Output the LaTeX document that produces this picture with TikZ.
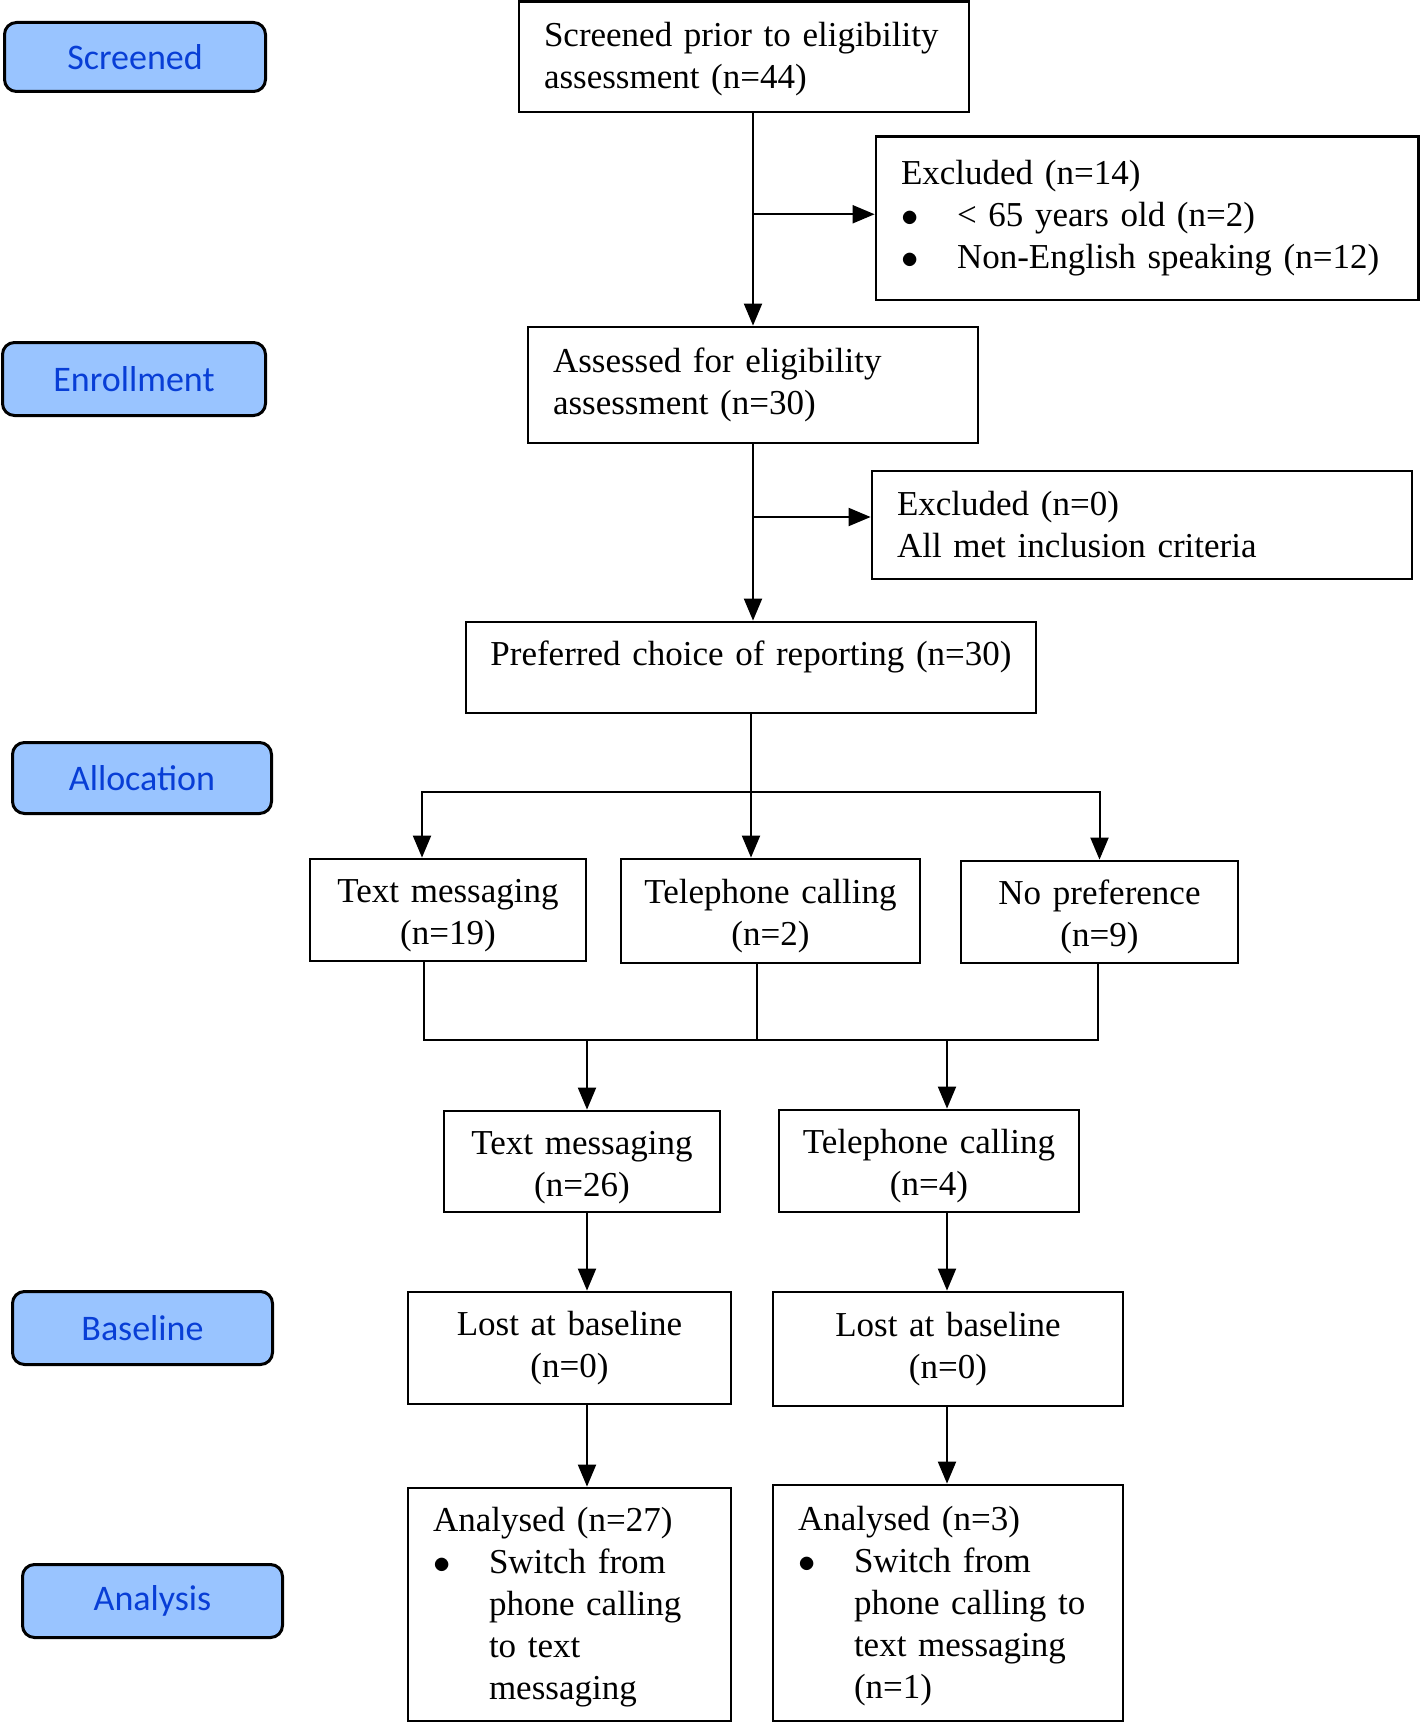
\documentclass[tikz,border=0pt]{standalone}
\usepackage{fontspec}
\setmainfont{Liberation Serif}
\newfontfamily\labelsans{Carlito}
\usetikzlibrary{arrows.meta}
\definecolor{labfill}{RGB}{153,196,255}
\definecolor{labtext}{RGB}{8,62,214}
\newcommand\boxsize{\fontsize{17.5pt}{21pt}\selectfont\fontdimen2\font=3.3pt\relax}
\newcommand\itembul{\makebox[28pt][l]{$\bullet$}}
\newcommand\itemind{\hspace*{28pt}}

\begin{document}
\begin{tikzpicture}[x=0.5pt,y=-0.5pt,
    box/.style={draw,line width=1.4pt,inner xsep=12.5pt,inner ysep=0pt,align=left,font=\boxsize},
    cbox/.style={box,inner xsep=4pt,align=center},
    lowtext/.style={text height=17.5pt},
    stage/.style={draw,line width=1.5pt,rounded corners=6pt,fill=labfill,text=labtext,
      font=\labelsans\fontsize{18pt}{21pt}\selectfont,inner sep=0pt},
    conn/.style={line width=1pt},
    arr/.style={conn,-{Triangle[length=11pt,width=9pt]}}]
  \useasboundingbox (0,0) rectangle (1421,1723);
  % stage labels on the left
  \node[stage,minimum width=130.5pt,minimum height=34.5pt] (lscr) at (135,57) {Screened};
  \node[stage,minimum width=131.5pt,minimum height=36.5pt] (lenr) at (134,379) {Enrollment};
  \node[stage,minimum width=129.5pt,minimum height=35.5pt] (lall) at (142,778) {Allocation};
  \node[stage,minimum width=130pt,minimum height=36.5pt] (lbas) at (142.5,1328) {Baseline};
  \node[stage,minimum width=130pt,minimum height=36.5pt] (lana) at (152.5,1601) {Analysis};
  % flow boxes
  \node[box,text width=200pt,minimum height=55.25pt,text height=14pt] (scr) at (744,56.75)
    {Screened prior to eligibility\\assessment (n=44)};
  \node[box,text width=246.25pt,minimum height=81.75pt] (excl1) at (1147.25,218.25)
    {Excluded (n=14)\\\itembul{}< 65 years old (n=2)\\\itembul{}Non-English speaking (n=12)};
  \node[box,text width=200pt,minimum height=58pt] (asd) at (753,385)
    {Assessed for eligibility\\assessment (n=30)};
  \node[box,text width=245pt,minimum height=54pt] (excl0) at (1142,525)
    {Excluded (n=0)\\All met inclusion criteria};
  \node[cbox,text width=277pt,minimum height=45.5pt,text height=12pt,text depth=14pt] (pref) at (751,667.5)
    {Preferred choice of reporting (n=30)};
  \node[cbox,lowtext,text width=130pt,minimum height=51pt] (txt1) at (448,910) {Text messaging\\(n=19)};
  \node[cbox,lowtext,text width=141.5pt,minimum height=52pt] (tel1) at (770.5,911) {Telephone calling\\(n=2)};
  \node[cbox,lowtext,text width=130.5pt,minimum height=51pt] (nopref) at (1099.5,912) {No preference\\(n=9)};
  \node[cbox,lowtext,text width=130pt,minimum height=50.5pt] (txt2) at (582,1161.5) {Text messaging\\(n=26)};
  \node[cbox,lowtext,text width=142pt,minimum height=51pt] (tel2) at (929,1161) {Telephone calling\\(n=4)};
  \node[cbox,text width=153.5pt,minimum height=56pt] (lostL) at (569.5,1348) {Lost at baseline\\(n=0)};
  \node[cbox,text width=167pt,minimum height=57pt] (lostR) at (948,1349) {Lost at baseline\\(n=0)};
  \node[box,text width=136.5pt,minimum height=116.5pt,text height=15pt] (anaL) at (569.5,1604.5)
    {Analysed (n=27)\\\itembul{}Switch from\\\itemind{}phone calling\\\itemind{}to text\\\itemind{}messaging};
  \node[box,text width=150pt,minimum height=118pt,text height=15pt] (anaR) at (948,1603)
    {Analysed (n=3)\\\itembul{}Switch from\\\itemind{}phone calling to\\\itemind{}text messaging\\\itemind{}(n=1)};
  % junction points
  \coordinate (split) at (751,792);
  \coordinate (merge) at (757,1040);
  \coordinate (colL) at (587,1040);
  \coordinate (colR) at (947,1040);
  % connectors
  \draw[arr] (asd.north |- scr.south) -- (asd.north);
  \draw[arr] ([yshift=2pt]excl1.west -| asd.north) -- ([yshift=2pt]excl1.west);
  \draw[arr] (asd.south) -- (asd.south |- pref.north);
  \draw[arr] ([yshift=4pt]excl0.west -| asd.south) -- ([yshift=4pt]excl0.west);
  \draw[arr] (pref.south) -- (pref.south |- tel1.north);
  \draw[arr] (split) -| ([xshift=-13pt]txt1.north);
  \draw[arr] (split) -| (nopref.north);
  \draw[conn] ([xshift=-12pt]txt1.south) |- (merge) -| ([xshift=-0.75pt]nopref.south);
  \draw[conn] ([xshift=-6.75pt]tel1.south) -- (merge);
  \draw[arr] (colL) -- (colL |- txt2.north);
  \draw[arr] (colR) -- (colR |- tel2.north);
  \draw[arr] (colL |- txt2.south) -- (colL |- lostL.north);
  \draw[arr] (colR |- tel2.south) -- (colR |- lostR.north);
  \draw[arr] (colL |- lostL.south) -- (colL |- anaL.north);
  \draw[arr] (colR |- lostR.south) -- (colR |- anaR.north);
\end{tikzpicture}
\end{document}
